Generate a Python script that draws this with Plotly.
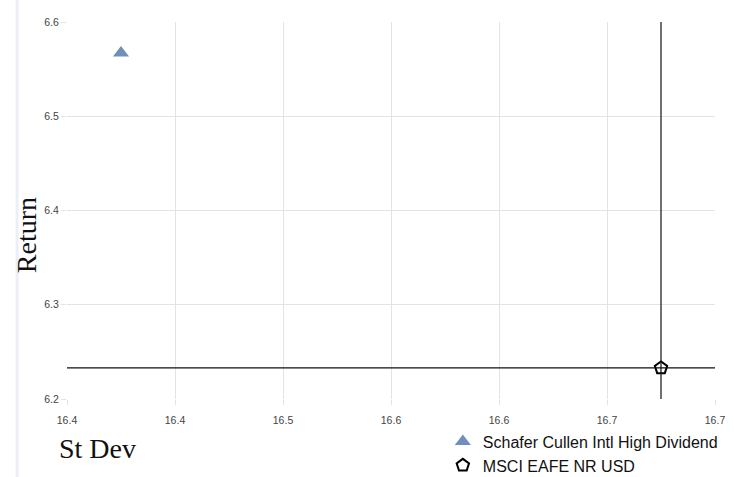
import plotly.graph_objects as go

# Risk / return data
names = ["Schafer Cullen Intl High Dividend", "MSCI EAFE NR USD"]
st_dev = [16.40, 16.70]
returns = [6.567, 6.233]
symbols = ["triangle-up", "pentagon"]
fill_colors = ["#7190b9", "#ffffff"]
line_colors = ["#7190b9", "#000000"]

# Axis ticks
x_ticks = [16.37, 16.43, 16.49, 16.55, 16.61, 16.67, 16.73]
x_tick_text = ["16.4", "16.4", "16.5", "16.6", "16.6", "16.7", "16.7"]
y_ticks = [6.2, 6.3, 6.4, 6.5, 6.6]
y_tick_text = ["6.2", "6.3", "6.4", "6.5", "6.6"]

sans = "Liberation Sans Narrow, Liberation Sans, Arial, sans-serif"
tick_font = dict(family=sans, size=10.5, color="#444444")
serif = "Palatino Linotype, Liberation Serif, DejaVu Serif, serif"

fig = go.Figure()
for i in range(len(names)):
    fig.add_trace(go.Scatter(
        x=[st_dev[i]], y=[returns[i]], mode="markers", name=names[i],
        marker=dict(symbol=symbols[i], size=14 if i == 0 else 13,
                    color=fill_colors[i],
                    line=dict(color=line_colors[i], width=0 if i == 0 else 2)),
    ))

# Crosshair through the benchmark
bx, by = st_dev[1], returns[1]
fig.add_shape(type="line", xref="x", yref="paper", x0=bx, x1=bx, y0=0, y1=1,
              line=dict(color="#111111", width=1.2), layer="above")
fig.add_shape(type="line", xref="paper", yref="y", x0=0, x1=1, y0=by, y1=by,
              line=dict(color="#111111", width=1.2), layer="above")

# Thin page border on the left
fig.add_shape(type="line", xref="paper", yref="paper", x0=-0.077, x1=-0.077,
              y0=-0.21, y1=1.06, line=dict(color="#eceff7", width=3), layer="below")

fig.add_annotation(text="Return", xref="paper", yref="paper", x=-0.063, y=0.435,
                   xanchor="center", yanchor="middle",
                   textangle=-90, showarrow=False,
                   font=dict(family=serif, size=28, color="#111111"))
fig.add_annotation(text="St Dev", xref="paper", yref="paper", x=-0.016, y=-0.132,
                   xanchor="left", yanchor="middle", showarrow=False,
                   font=dict(family=serif, size=28, color="#111111"))

fig.update_xaxes(range=[x_ticks[0], x_ticks[-1]], tickvals=x_ticks, ticktext=x_tick_text,
                 showgrid=True, gridcolor="#e3e3e3", gridwidth=1,
                 ticks="outside", ticklen=5, tickcolor="#e3e3e3", ticklabelstandoff=6,
                 zeroline=False, showline=False, tickfont=tick_font)
fig.update_yaxes(range=[y_ticks[0], y_ticks[-1]], tickvals=y_ticks, ticktext=y_tick_text,
                 showgrid=True, gridcolor="#e3e3e3", gridwidth=1,
                 ticks="outside", ticklen=5, tickcolor="#e3e3e3",
                 zeroline=False, showline=False, tickfont=tick_font)

fig.update_layout(
    width=734, height=477,
    margin=dict(l=67, r=19, t=22, b=78, autoexpand=False),
    paper_bgcolor="white", plot_bgcolor="white",
    legend=dict(x=0.58, y=-0.068, xanchor="left", yanchor="top",
                bgcolor="rgba(0,0,0,0)", itemwidth=30, tracegroupgap=0,
                font=dict(family=sans, size=16, color="#111111")),
    showlegend=True,
)

fig.write_html("out.html")
